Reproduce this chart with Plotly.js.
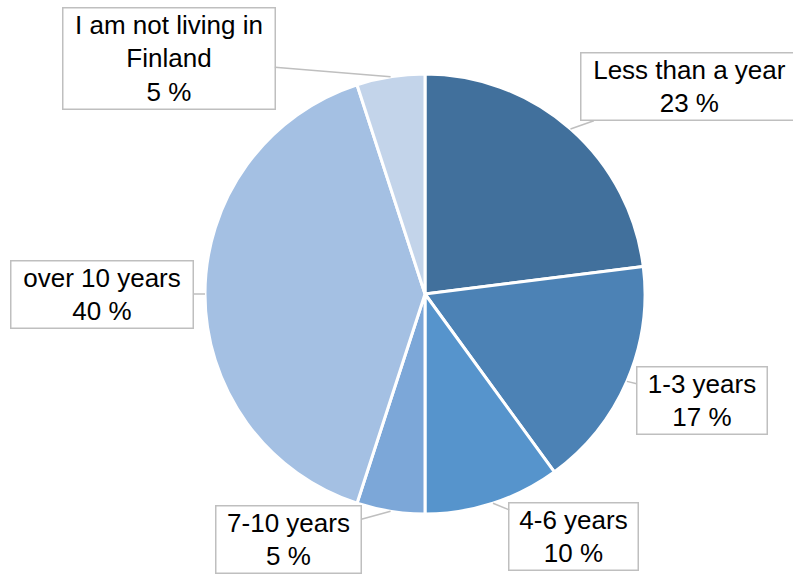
<!DOCTYPE html>
<html>
<head>
<meta charset="utf-8">
<script src="https://cdn.plot.ly/plotly-3.0.1.min.js"></script>
<style>html,body{margin:0;padding:0;background:#fff;}#chart{width:793px;height:576px;}</style>
</head>
<body>
<div id="chart"></div>
<script>
const categories = ["Less than a year", "1-3 years", "4-6 years", "7-10 years", "over 10 years", "I am not living in<br>Finland"];
const values = [23, 17, 10, 5, 40, 5];
const colors = ["#41709C", "#4C82B5", "#5694CC", "#7CA7D8", "#A4C0E3", "#C3D4EA"];
const labelOffsets = [[119, -42], [75, 19], [81, 33], [-102, 28], [-103, 0], [-222, -18]];
const boxWidths = [214, 127, 126, 142, 179, 209];

const W = 793, H = 576;
const cxPx = 425, cyPx = 294, rPx = 220;
const dom = {x: [(cxPx - rPx) / W, (cxPx + rPx) / W], y: [(H - cyPx - rPx) / H, (H - cyPx + rPx) / H]};

const total = values.reduce((a, b) => a + b, 0);
let cum = 0;
const annotations = values.map((v, i) => {
  const mid = (cum + v / 2) / total;
  cum += v;
  const th = mid * 2 * Math.PI;
  const x = (cxPx + rPx * Math.sin(th)) / W;
  const y = (H - cyPx + rPx * Math.cos(th)) / H;
  return {
    xref: 'paper', yref: 'paper', x: x, y: y,
    text: categories[i] + '<br>' + Math.round(v / total * 100) + ' %',
    showarrow: true, arrowhead: 0, arrowwidth: 1.5, arrowcolor: '#BFBFBF',
    ax: labelOffsets[i][0], ay: labelOffsets[i][1],
    bordercolor: '#BFBFBF', borderwidth: 1.5, borderpad: 1,
    bgcolor: '#FFFFFF', width: boxWidths[i],
    font: {family: 'Liberation Sans, Arial, sans-serif', size: 26, color: '#000000'},
    align: 'center'
  };
});

const trace = {
  type: 'pie', labels: categories, values: values, sort: false, direction: 'clockwise', rotation: 0,
  marker: {colors: colors, line: {color: '#FFFFFF', width: 3}},
  textinfo: 'none', hoverinfo: 'label+percent', showlegend: false,
  domain: dom
};

Plotly.newPlot('chart', [trace], {
  width: W, height: H, margin: {l: 0, r: 0, t: 0, b: 0},
  paper_bgcolor: '#FFFFFF', plot_bgcolor: '#FFFFFF',
  annotations: annotations, showlegend: false
}, {displayModeBar: false, staticPlot: true});
</script>
</body>
</html>
